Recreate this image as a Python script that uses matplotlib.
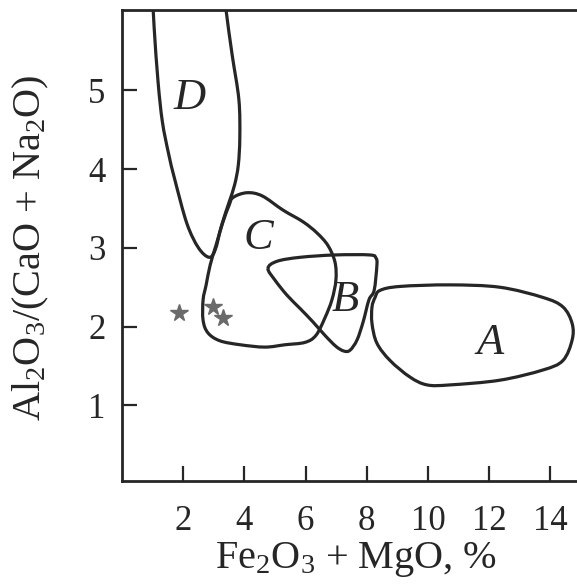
import numpy as np
import matplotlib
matplotlib.use("Agg")
import matplotlib.pyplot as plt
from matplotlib.path import Path
from matplotlib.patches import PathPatch

# --- Fonts ---
plt.rcParams['font.family'] = 'Liberation Serif'
plt.rcParams['mathtext.fontset'] = 'custom'
plt.rcParams['mathtext.rm'] = 'Liberation Serif'
plt.rcParams['mathtext.it'] = 'Liberation Serif:italic'

INK = '#262626'

# --- Field outlines ---
# D is open at the top (runs off the plot)
d_x = [0.97, 1.05, 1.18, 1.32, 1.52, 1.73, 2.12, 2.50, 2.85, 3.05, 3.25, 3.50, 3.68, 3.80, 3.85, 3.82, 3.60, 3.40, 3.30]
d_y = [6.40, 5.80, 5.10, 4.60, 4.20, 3.86, 3.31, 3.00, 2.88, 2.98, 3.28, 3.58, 3.80, 4.05, 4.40, 4.88, 5.45, 6.02, 6.40]

c_x = [3.63, 4.08, 4.58, 5.26, 5.92, 6.37, 6.73, 6.96, 6.99, 6.86, 6.63, 6.34, 5.98, 5.33, 4.67, 3.86,
       3.20, 2.81, 2.65, 2.65, 2.75, 2.88, 3.07, 3.30, 3.50]
c_y = [3.64, 3.70, 3.66, 3.48, 3.33, 3.19, 3.03, 2.82, 2.59, 2.34, 2.11, 1.89, 1.80, 1.77, 1.74, 1.77,
       1.82, 1.92, 2.08, 2.34, 2.53, 2.78, 3.03, 3.33, 3.54]

b_x = [4.77, 5.07, 5.82, 6.96, 8.10, 8.30, 8.33, 8.24, 8.07, 7.88, 7.68, 7.45, 7.25, 6.99, 6.63, 6.24, 5.82, 5.39, 5.00]
b_y = [2.74, 2.83, 2.88, 2.91, 2.91, 2.87, 2.78, 2.46, 2.34, 2.06, 1.83, 1.70, 1.69, 1.75, 1.89, 2.06, 2.23, 2.40, 2.59]

a_x = [8.43, 9.08, 10.72, 12.35, 13.76, 14.41, 14.71, 14.71, 14.41, 13.76, 12.35, 10.72, 9.97, 9.41, 8.76, 8.33, 8.17, 8.17, 8.27]
a_y = [2.46, 2.51, 2.53, 2.50, 2.37, 2.25, 2.04, 1.83, 1.57, 1.45, 1.32, 1.26, 1.26, 1.36, 1.57, 1.79, 2.04, 2.25, 2.37]

# samples (stars)
star_x = [1.86, 2.97, 3.30]
star_y = [2.17, 2.25, 2.11]

# field labels
field_names = ['A', 'B', 'C', 'D']
field_x = [12.03, 7.29, 4.44, 2.22]
field_y = [1.79, 2.34, 3.12, 4.90]

x_ticks = [2, 4, 6, 8, 10, 12, 14]
y_ticks = [1, 2, 3, 4, 5]


def smooth_path(xs, ys, closed=True):
    # Catmull-Rom through the points, as cubic Bezier segments
    p = np.column_stack([xs, ys]).astype(float)
    n = len(p)
    verts = [p[0]]
    codes = [Path.MOVETO]
    last = n if closed else n - 1
    for i in range(last):
        p0 = p[(i - 1) % n] if (closed or i > 0) else p[i]
        p1 = p[i % n]
        p2 = p[(i + 1) % n]
        p3 = p[(i + 2) % n] if (closed or i + 2 < n) else p2
        verts += [p1 + (p2 - p0) / 6.0, p2 - (p3 - p1) / 6.0, p2]
        codes += [Path.CURVE4] * 3
    return Path(verts, codes)


fig = plt.figure(figsize=(5.77, 5.87), dpi=100)
ax = fig.add_axes([122 / 577, 106 / 587, 459 / 577, 471 / 587])

for xs, ys, closed in [(d_x, d_y, False), (c_x, c_y, True), (b_x, b_y, True), (a_x, a_y, True)]:
    ax.add_patch(PathPatch(smooth_path(xs, ys, closed), fill=False, edgecolor=INK, lw=2.3))

ax.plot(star_x, star_y, ls='none', marker='*', ms=13, color='#6a6a6a', mec='#6a6a6a')

for name, x, y in zip(field_names, field_x, field_y):
    ax.text(x, y, name, fontsize=32, style='italic', color=INK, ha='center', va='center')

ax.set_xlim(0, 15)
ax.set_ylim(0.04, 6.02)
ax.set_xticks(x_ticks)
ax.set_yticks(y_ticks)
ax.tick_params(direction='in', length=11, width=1.6, colors=INK, labelsize=25)
ax.tick_params(axis='x', pad=17)
ax.tick_params(axis='y', pad=12)
for s in ['left', 'bottom', 'top']:
    ax.spines[s].set_linewidth(2.0)
    ax.spines[s].set_color(INK)
ax.spines['right'].set_visible(False)

ax.set_xlabel(r'Fe$_2$O$_3$ + MgO, %', fontsize=29, color=INK, va='top')
ax.set_ylabel(r'Al$_2$O$_3$/(CaO + Na$_2$O)', fontsize=29, color=INK)
ax.xaxis.set_label_coords(0.51, -0.125)
ax.yaxis.set_label_coords(-0.155, 0.495)

fig.savefig('out.png', dpi=100)
